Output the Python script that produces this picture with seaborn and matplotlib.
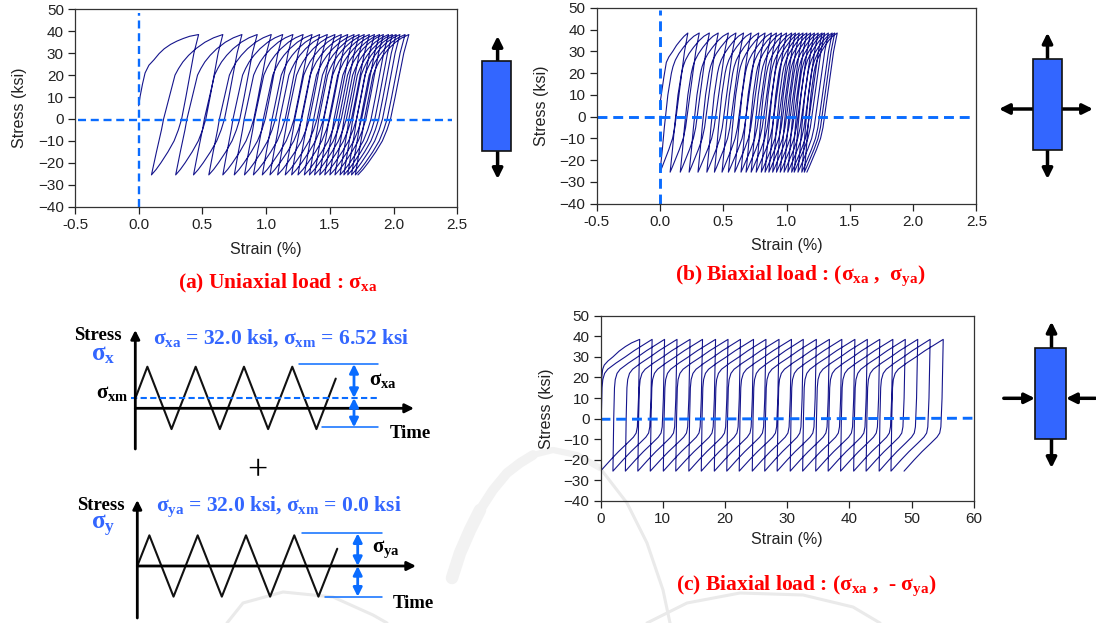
import numpy as np
import matplotlib
matplotlib.use('Agg')
import matplotlib.pyplot as plt
import seaborn as sns

#cycle turning points, strain in %
a_peaks = [0.47, 0.66, 0.81, 0.93, 1.04, 1.13, 1.21, 1.29, 1.36, 1.42, 1.48, 1.54, 1.59, 1.64,
           1.69, 1.73, 1.77, 1.81, 1.85, 1.89, 1.92, 1.96, 1.99, 2.02, 2.05, 2.09, 2.12]
a_valleys = [0.10, 0.29, 0.43, 0.55, 0.66, 0.75, 0.83, 0.90, 0.97, 1.03, 1.09, 1.15, 1.20, 1.25,
             1.30, 1.34, 1.38, 1.42, 1.46, 1.50, 1.54, 1.58, 1.61, 1.64, 1.67, 1.70, 1.72]
b_peaks = [0.22, 0.31, 0.39, 0.46, 0.54, 0.60, 0.66, 0.72, 0.78, 0.83, 0.88, 0.92, 0.96, 1.00,
           1.04, 1.07, 1.10, 1.13, 1.16, 1.19, 1.22, 1.25, 1.28, 1.30, 1.33, 1.36, 1.38, 1.40]
b_valleys = [0.00, 0.08, 0.16, 0.23, 0.30, 0.37, 0.43, 0.49, 0.54, 0.59, 0.64, 0.68, 0.72, 0.76,
             0.80, 0.83, 0.86, 0.89, 0.92, 0.95, 0.98, 1.01, 1.04, 1.06, 1.09, 1.12, 1.14, 1.16]
c_peaks = [6.3, 8.3, 10.3, 12.3, 14.4, 16.4, 18.5, 20.5, 22.5, 24.6, 26.6, 28.7, 30.7, 32.6,
           34.7, 36.8, 38.8, 40.9, 42.9, 44.9, 47.0, 49.0, 51.0, 53.0, 55.1]
c_valleys = [0.0, 2.0, 4.0, 6.0, 8.0, 10.1, 12.1, 14.2, 16.2, 18.3, 20.3, 22.3, 24.4, 26.4,
             28.4, 30.5, 32.5, 34.6, 36.6, 38.6, 40.7, 42.7, 44.8, 46.7, 48.8]

#first loading curves
a_first_strain = [0.00, 0.01, 0.03, 0.05, 0.08, 0.12, 0.16, 0.20, 0.25, 0.30, 0.35, 0.40, 0.47]
a_first_stress = [6, 10, 16, 21, 24.5, 27, 29.8, 32, 34, 35.5, 36.7, 37.7, 38.5]
b_first_strain = [0.00, 0.01, 0.02, 0.03, 0.05, 0.07, 0.10, 0.13, 0.16, 0.19, 0.22]
b_first_stress = [6, 10, 14, 18, 25, 27.5, 30, 32.8, 35, 37, 38.5]
c_first_strain = [0.0, 0.1, 0.2, 0.35, 0.6, 1.2, 2.0, 3.0, 4.0, 5.0, 6.3]
c_first_stress = [5, 15, 20, 24, 26, 28, 30, 32.8, 35, 36.8, 38.5]

#shape of the branches: stress level and fraction of the strain range
a_up_stress = [-25.5, -15, -5, 0, 10, 20, 23, 26, 29, 32, 35, 37, 38.5]
a_up_frac = [0, 0.07, 0.14, 0.17, 0.25, 0.33, 0.38, 0.44, 0.52, 0.62, 0.75, 0.87, 1]
b_up_stress = [-25.5, -15, -5, 0, 10, 20, 23, 26, 29, 32, 35, 37, 38.5]
b_up_frac = [0, 0.06, 0.11, 0.14, 0.20, 0.29, 0.33, 0.39, 0.48, 0.60, 0.74, 0.86, 1]
c_up_stress = [-25.5, 0, 15, 19, 22, 24, 27, 30, 33, 36, 38.5]
c_up_frac = [0, 0.015, 0.03, 0.045, 0.08, 0.14, 0.30, 0.48, 0.65, 0.84, 1]
a_down_stress = [38.5, 30, 10, 0, -5, -10, -15, -20, -23, -25.5]
a_down_frac = [0, 0.10, 0.27, 0.36, 0.43, 0.52, 0.65, 0.80, 0.90, 1]
b_down_stress = [38.5, 30, 10, 0, -5, -10, -15, -20, -23, -25.5]
b_down_frac = [0, 0.12, 0.32, 0.42, 0.47, 0.55, 0.68, 0.83, 0.92, 1]
c_down_stress = [38.5, 10, 0, -4, -7, -9, -12, -16, -20, -25.5]
c_down_frac = [0, 0.03, 0.05, 0.06, 0.09, 0.16, 0.32, 0.54, 0.74, 1]

#sketch waves
x_wave_time = [0, 0.25, 0.75, 1.25, 1.75, 2.25, 2.75, 3.25, 3.75, 4.15]
x_wave_stress = [10, 42, -21, 42, -21, 42, -21, 42, -21, 30]
y_wave_time = [0, 0.25, 0.75, 1.25, 1.75, 2.25, 2.75, 3.25, 3.75, 4.14]
y_wave_stress = [0, 32, -32, 32, -32, 32, -32, 32, -32, 18]

y_ticks = [-40, -30, -20, -10, 0, 10, 20, 30, 40, 50]
strain_ticks = [-0.5, 0.0, 0.5, 1.0, 1.5, 2.0, 2.5]
c_strain_ticks = [0, 10, 20, 30, 40, 50, 60]

#faint watermark behind the figure (pixel positions)
mark_thick_x = [452, 460, 470, 480, 493, 507, 520, 533, 553, 577, 600]
mark_thick_y = [578, 553, 530, 510, 490, 473, 463, 455, 450, 455, 468]
mark_thin1_x = [600, 627, 647, 663, 670]
mark_thin1_y = [468, 503, 543, 590, 623]
mark_thin2_x = [647, 687, 740, 803, 853, 880]
mark_thin2_y = [623, 603, 593, 595, 607, 623]
mark_thin3_x = [227, 243, 283, 333, 373, 387]
mark_thin3_y = [623, 603, 592, 597, 615, 623]

sns.set_theme(style='ticks')
plt.rcParams['font.family'] = ['Liberation Sans', 'DejaVu Sans']
plt.rcParams['mathtext.fontset'] = 'custom'
plt.rcParams['mathtext.rm'] = 'Liberation Serif:bold'
plt.rcParams['mathtext.it'] = 'Liberation Serif:bold'
plt.rcParams['mathtext.bf'] = 'Liberation Serif:bold'

W, H = 1096, 623
BLUE = '#0a6cff'
FILL = '#3366ff'
NAVY = '#15158c'
RED = '#ff0000'

fig = plt.figure(figsize=(W / 100, H / 100), dpi=100, facecolor='white')


def px_axes(left, right, top, bottom, z=1):
    a = fig.add_axes([left / W, 1 - bottom / H, (right - left) / W, (bottom - top) / H], zorder=z)
    a.set_facecolor('none')
    return a


#build the whole strain path of one test
def loop_path(first_strain, first_stress, peaks, valleys, up_stress, up_frac, down_stress, down_frac):
    xs = list(first_strain)
    ys = list(first_stress)
    for i in range(len(peaks)):
        xs += [peaks[i] + (valleys[i] - peaks[i]) * f for f in down_frac[1:]]
        ys += down_stress[1:]
        if i + 1 < len(peaks):
            xs += [valleys[i] + (peaks[i + 1] - valleys[i]) * f for f in up_frac[1:]]
            ys += up_stress[1:]
    return xs, ys


def panel(box, xlim, xticks, xfmt, path, hline, vline, dash_lw, ylab_x, xpad):
    ax = px_axes(*box)
    sns.lineplot(x=path[0], y=path[1], sort=False, estimator=None, color=NAVY, lw=0.8, ax=ax, legend=False)
    sns.lineplot(x=hline[0], y=hline[1], sort=False, estimator=None, color=BLUE, lw=dash_lw,
                 ax=ax, legend=False, linestyle='--')
    ax.lines[-1].set_dashes((3.4, 2.0))
    if vline is not None:
        sns.lineplot(x=vline[0], y=vline[1], sort=False, estimator=None, color=BLUE, lw=dash_lw,
                     ax=ax, legend=False, linestyle='--')
        ax.lines[-1].set_dashes((3.4, 2.0))
    ax.set_xlim(*xlim)
    ax.set_ylim(-40, 50)
    ax.set_xticks(xticks)
    ax.set_xticklabels([xfmt % t for t in xticks])
    ax.set_yticks(y_ticks)
    ax.tick_params(labelsize=11, length=5, width=0.9, colors='#222222', pad=3)
    ax.set_xlabel('Strain (%)', fontsize=11.5, color='#222222', labelpad=xpad)
    ax.set_ylabel('Stress (ksi)', fontsize=11.5, color='#222222')
    ax.yaxis.set_label_coords((ylab_x - box[0]) / (box[1] - box[0]), 0.5)
    for s in ax.spines.values():
        s.set_color('#333333')
        s.set_linewidth(0.9)
    return ax


path_a = loop_path(a_first_strain, a_first_stress, a_peaks, a_valleys, a_up_stress, a_up_frac, a_down_stress, a_down_frac)
path_b = loop_path(b_first_strain, b_first_stress, b_peaks, b_valleys, b_up_stress, b_up_frac, b_down_stress, b_down_frac)
path_c = loop_path(c_first_strain, c_first_stress, c_peaks, c_valleys, c_up_stress, c_up_frac, c_down_stress, c_down_frac)

panel((75, 457.3, 9.3, 206.7), (-0.5, 2.5), strain_ticks, '%.1f', path_a,
      ([-0.48, 2.46], [-0.5, -0.5]), ([0, 0], [-40, 48.5]), 1.7, 27, 7)
panel((596.7, 976.5, 8, 203.7), (-0.5, 2.5), strain_ticks, '%.1f', path_b,
      ([-0.5, 2.47], [-0.2, -0.2]), ([0, 0], [-40, 49]), 2.1, 549, 6.5)
panel((600.5, 973.7, 315.7, 501), (0, 60), c_strain_ticks, '%d', path_c,
      ([0, 59.8], [-0.3, 0.2]), None, 2.1, 554, 4.5)

#watermark in pixel positions, behind the panels
ov = fig.add_axes([0, 0, 1, 1], zorder=0)
ov.set_xlim(0, W)
ov.set_ylim(H, 0)
ov.axis('off')
ov.plot(mark_thick_x[:4], mark_thick_y[:4], color='#f2f2f2', lw=9, solid_capstyle='round')
ov.plot(mark_thick_x[3:8], mark_thick_y[3:8], color='#f2f2f2', lw=7, solid_capstyle='round')
ov.plot(mark_thick_x[7:], mark_thick_y[7:], color='#f2f2f2', lw=4.5, solid_capstyle='round')
for mx, my in [(mark_thin1_x, mark_thin1_y), (mark_thin2_x, mark_thin2_y), (mark_thin3_x, mark_thin3_y)]:
    ov.plot(mx, my, color='#eaeaea', lw=2.2)

top = fig.add_axes([0, 0, 1, 1], zorder=3)
top.set_xlim(0, W)
top.set_ylim(H, 0)
top.axis('off')
top.patch.set_alpha(0)


def arrow(x0, y0, x1, y1, color='black', lw=2.5, style='-|>', size=15):
    top.annotate('', xy=(x1, y1), xytext=(x0, y0),
                 arrowprops=dict(arrowstyle=style, color=color, lw=lw, mutation_scale=size,
                                 shrinkA=0, shrinkB=0))


def serif(x, y, s, size, color='black', weight='bold', ha='center'):
    top.text(x, y, s, fontsize=size, color=color, family='Liberation Serif', weight=weight, ha=ha, va='center')


def block(x0, x1, y0, y1):
    top.add_patch(plt.Rectangle((x0, y0), x1 - x0, y1 - y0, facecolor=FILL, edgecolor='#111111', lw=1.2, zorder=4))


#loaded blocks
block(482, 511.4, 61, 151)
arrow(497.6, 62, 497.6, 36)
arrow(497.6, 150, 497.6, 179)

block(1032.6, 1062.3, 59.3, 149.7)
arrow(1047.5, 60, 1047.5, 32.7)
arrow(1047.5, 149, 1047.5, 179)
arrow(1033, 109, 999, 109)
arrow(1062, 109, 1093, 109)

block(1035.4, 1065.6, 348.3, 438.7)
arrow(1051.5, 349, 1051.5, 321.7)
arrow(1051.5, 438, 1051.5, 468)
arrow(1003.8, 398.3, 1035, 398.3)
arrow(1095.5, 398.3, 1066, 398.3)

#captions
serif(278, 283, r'(a) Uniaxial load : $\sigma_{xa}$', 15.5, RED)
serif(800.6, 276, r'(b) Biaxial load : ($\sigma_{xa}$ ,  $\sigma_{ya}$)', 15.5, RED)
serif(806.5, 585.7, r'(c) Biaxial load : ($\sigma_{xa}$ ,  - $\sigma_{ya}$)', 15.5, RED)

#sketch of the x load
ax_wx = px_axes(135.3, 135.3 + 4.5 * 48.3, 408.3 - 49.5, 408.3 + 39.6, z=2)
sns.lineplot(x=x_wave_time, y=x_wave_stress, sort=False, estimator=None, color='#111111', lw=1.5, ax=ax_wx, legend=False)
ax_wx.set_xlim(0, 4.5)
ax_wx.set_ylim(-40, 50)
ax_wx.axis('off')

arrow(135.3, 449, 135.3, 330, lw=2, size=13)
arrow(135.3, 408.3, 414, 408.3, lw=2, size=13)
top.plot([131, 377], [398.3, 398.3], color=BLUE, lw=1.5, ls=(0, (3, 1.6)))
top.plot([298.7, 377.7], [364, 364], color=BLUE, lw=1.1)
top.plot([321.7, 377.7], [427.3, 427.3], color=BLUE, lw=1.1)
arrow(354, 364, 354, 398, color=BLUE, style='<|-|>', size=13, lw=2)
arrow(354, 398, 354, 427.3, color=BLUE, style='<|-|>', size=13, lw=2)
serif(97.7, 335, 'Stress', 13.5)
serif(103, 354, r'$\sigma_x$', 18, FILL)
serif(280.8, 338, r'$\sigma_{xa}$ = 32.0 ksi, $\sigma_{xm}$ = 6.52 ksi', 15.5, FILL)
serif(112, 393, r'$\sigma_{xm}$', 15)
serif(382.5, 380, r'$\sigma_{xa}$', 15)
serif(410.5, 433, 'Time', 13.5)
serif(257, 472, '+', 26, weight='normal')

#sketch of the y load
ax_wy = px_axes(137.3, 137.3 + 4.5 * 48.3, 566 - 47.9, 566 + 38.3, z=2)
sns.lineplot(x=y_wave_time, y=y_wave_stress, sort=False, estimator=None, color='#111111', lw=1.5, ax=ax_wy, legend=False)
ax_wy.set_xlim(0, 4.5)
ax_wy.set_ylim(-40, 50)
ax_wy.axis('off')

arrow(137.3, 618, 137.3, 500, lw=2, size=13)
arrow(137.3, 566, 416, 566, lw=2, size=13)
top.plot([301.7, 381.7], [533.3, 533.3], color=BLUE, lw=1.1)
top.plot([325, 381.7], [596.7, 596.7], color=BLUE, lw=1.1)
arrow(357.7, 533.3, 357.7, 566, color=BLUE, style='<|-|>', size=13, lw=2)
arrow(357.7, 566, 357.7, 596.7, color=BLUE, style='<|-|>', size=13, lw=2)
serif(101, 505, 'Stress', 13.5)
serif(103, 526, r'$\sigma_y$', 18, FILL)
serif(278.8, 507, r'$\sigma_{ya}$ = 32.0 ksi, $\sigma_{xm}$ = 0.0 ksi', 15.5, FILL)
serif(385.5, 549, r'$\sigma_{ya}$', 15)
serif(413, 603, 'Time', 13.5)

fig.savefig('out.png', dpi=100)
